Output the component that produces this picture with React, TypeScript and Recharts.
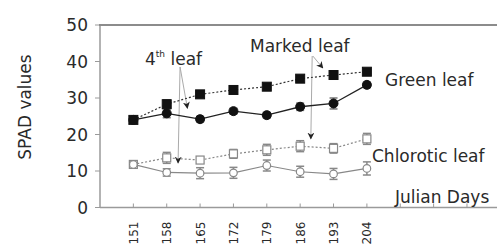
import React from 'react';
import { LineChart, Line, XAxis, YAxis, ErrorBar, ReferenceLine } from 'recharts';

const days = ['151', '158', '165', '172', '179', '186', '193', '204'];
const greenMarked = [24, 28.3, 31, 32.2, 33.1, 35.3, 36.3, 37.2];
const greenMarkedErr = [0.5, 1.2, 0.8, 0.8, 0.8, 0.8, 0.8, 0.8];
const green4th = [24, 25.8, 24.2, 26.4, 25.3, 27.6, 28.5, 33.6];
const green4thErr = [0.5, 1.2, 0.8, 0.8, 0.8, 1.0, 1.5, 0.8];
const chloroMarked = [11.8, 13.6, 13, 14.7, 15.8, 16.8, 16.2, 18.8];
const chloroMarkedErr = [0.5, 1.5, 0.8, 1.2, 1.5, 1.5, 1.3, 1.5];
const chloro4th = [11.8, 9.6, 9.4, 9.5, 11.5, 9.8, 9.2, 10.7];
const chloro4thErr = [0.5, 1.0, 1.5, 1.5, 1.5, 1.5, 1.5, 1.8];
const yTicks = [0, 10, 20, 30, 40, 50];
const xTicks = [1, 2, 3, 4, 5, 6, 7, 8, 9, 10, 11];
const xDomain: [number, number] = [0, 11.9];

const data = days.map((d, i) => ({
  x: i + 1,
  day: d,
  gm: greenMarked[i],
  gmE: greenMarkedErr[i],
  g4: green4th[i],
  g4E: green4thErr[i],
  cm: chloroMarked[i],
  cmE: chloroMarkedErr[i],
  c4: chloro4th[i],
  c4E: chloro4thErr[i],
}));

const FONT = '"DejaVu Sans", Verdana, sans-serif';
const TXT = '#2a2a2a';
const AXIS = '#9a9a9a';

const BlackSquare = (p: any) => (
  <rect key={p.key} x={p.cx - 4.5} y={p.cy - 4.5} width={9} height={9} fill="#111" stroke="#111" />
);
const BlackCircle = (p: any) => <circle key={p.key} cx={p.cx} cy={p.cy} r={4.5} fill="#111" stroke="#111" />;
const OpenSquare = (p: any) => (
  <rect key={p.key} x={p.cx - 4} y={p.cy - 4} width={8} height={8} fill="#fff" stroke="#888" strokeWidth={1.2} />
);
const OpenCircle = (p: any) => (
  <circle key={p.key} cx={p.cx} cy={p.cy} r={3.8} fill="#fff" stroke="#888" strokeWidth={1.2} />
);

const XTick = (p: any) => {
  const idx = p.payload.value - 1;
  const label = days[idx] ?? '';
  return (
    <g>
      <line x1={p.x} y1={p.y} x2={p.x} y2={p.y - 4} stroke={AXIS} strokeWidth={1} />
      {label && (
        <text
          transform={`translate(${p.x + 4.5},${p.y + 14}) rotate(-90)`}
          textAnchor="end"
          fontSize={12}
          fontFamily={FONT}
          fill={TXT}
        >
          {label}
        </text>
      )}
    </g>
  );
};

export default function App() {
  return (
    <div style={{ position: 'absolute', left: 0, top: 0, width: 497, height: 246, background: '#fff', overflow: 'hidden' }}>
      <LineChart width={497} height={246} data={data} margin={{ top: 25, right: 0, bottom: 0, left: 0 }}>
        <XAxis
          dataKey="x"
          type="number"
          domain={xDomain}
          ticks={xTicks}
          interval={0}
          height={38.5}
          tickSize={0}
          tickMargin={0}
          tickLine={false}
          tick={<XTick />}
          axisLine={{ stroke: AXIS, strokeWidth: 1.5 }}
        />
        <YAxis
          type="number"
          domain={[0, 50]}
          ticks={yTicks}
          width={100}
          tickSize={5}
          tickMargin={7}
          tickLine={{ stroke: AXIS }}
          axisLine={{ stroke: AXIS, strokeWidth: 1.5 }}
          tick={{ fontSize: 17, fontFamily: FONT, fill: TXT }}
        />
        <ReferenceLine
          segment={[{ x: 2.4, y: 38.5 }, { x: 2.62, y: 27.2 }]}
          stroke="#aaa"
          strokeWidth={1}
          markerEnd="url(#arrowHead)"
          ifOverflow="visible"
        />
        <ReferenceLine
          segment={[{ x: 2.4, y: 38.5 }, { x: 2.34, y: 12.2 }]}
          stroke="#aaa"
          strokeWidth={1}
          markerEnd="url(#arrowHead)"
          ifOverflow="visible"
        />
        <ReferenceLine
          segment={[{ x: 6.36, y: 41.5 }, { x: 6.32, y: 18.8 }]}
          stroke="#aaa"
          strokeWidth={1}
          markerEnd="url(#arrowHead)"
          ifOverflow="visible"
        />
        <ReferenceLine
          segment={[{ x: 6.38, y: 41.5 }, { x: 6.68, y: 38.2 }]}
          stroke="#aaa"
          strokeWidth={1}
          markerEnd="url(#arrowHead)"
          ifOverflow="visible"
        />
        <Line
          dataKey="gm"
          stroke="#333"
          strokeWidth={1.2}
          strokeDasharray="2 2"
          dot={BlackSquare}
          isAnimationActive={false}
        >
          <ErrorBar dataKey="gmE" width={4} stroke="#777" direction="y" />
        </Line>
        <Line dataKey="g4" stroke="#222" strokeWidth={1.3} dot={BlackCircle} isAnimationActive={false}>
          <ErrorBar dataKey="g4E" width={4} stroke="#777" direction="y" />
        </Line>
        <Line
          dataKey="cm"
          stroke="#888"
          strokeWidth={1.2}
          strokeDasharray="2 2"
          dot={OpenSquare}
          isAnimationActive={false}
        >
          <ErrorBar dataKey="cmE" width={4} stroke="#888" direction="y" />
        </Line>
        <Line dataKey="c4" stroke="#888" strokeWidth={1.2} dot={OpenCircle} isAnimationActive={false}>
          <ErrorBar dataKey="c4E" width={4} stroke="#888" direction="y" />
        </Line>
      </LineChart>
      <svg
        width={497}
        height={246}
        style={{ position: 'absolute', left: 0, top: 0, pointerEvents: 'none' }}
        fontFamily={FONT}
        fill={TXT}
      >
        <defs>
          <marker id="arrowHead" viewBox="0 0 10 10" refX="9" refY="5" markerWidth="7" markerHeight="7" orient="auto-start-reverse" markerUnits="userSpaceOnUse">
            <path d="M0,0 L10,5 L0,10 L3,5 z" fill="#222" />
          </marker>
        </defs>
        <rect x={99} y={24} width={398} height={2} fill="#8c8c8c" stroke="none" />
        <text transform="translate(31,107) rotate(-90)" textAnchor="middle" fontSize={17}>
          SPAD values
        </text>
        <text x={145} y={65} fontSize={17}>
          4<tspan fontSize={9} dy={-8}>th</tspan>
          <tspan dy={8}> leaf</tspan>
        </text>
        <text x={250} y={52} fontSize={17}>Marked leaf</text>
        <text x={385} y={86} fontSize={17}>Green leaf</text>
        <text x={372} y={162} fontSize={17}>Chlorotic leaf</text>
        <text x={395} y={203} fontSize={17}>Julian Days</text>
      </svg>
    </div>
  );
}
